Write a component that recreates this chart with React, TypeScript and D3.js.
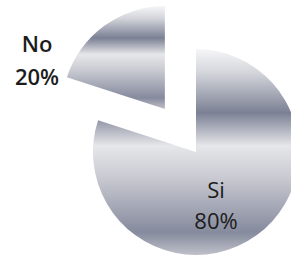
import React from "react";
import * as d3 from "d3";

const categories = ["Si", "No"];
const values = [80, 20];
const percentLabels = ["80%", "20%"];

const W = 291;
const H = 259;

export default function App() {
  const cx = 196;
  const cy = 152;
  const r = 103;
  const explode = 53;

  const pie = d3.pie<number>().sort(null).value((d) => d);
  const arcs = pie(values);
  const arcGen = d3.arc<d3.PieArcDatum<number>>().innerRadius(0).outerRadius(r);

  const stops: [number, string][] = [
    [0, "#f6f6f8"],
    [0.12, "#d2d4da"],
    [0.31, "#7b8094"],
    [0.47, "#e6e7ea"],
    [0.62, "#cacbd2"],
    [0.89, "#858a9d"],
    [1, "#bfc1c9"],
  ];

  const labelPos = [
    { x: 216, y1: 198, y2: 229, weight: 400 },
    { x: 37, y1: 52, y2: 85, weight: 600 },
  ];

  return (
    <svg
      width={W}
      height={H}
      style={{ position: "absolute", left: 0, top: 0, display: "block" }}
    >
      <defs>
        <linearGradient id="chrome" x1="0" y1="0" x2="0" y2="1">
          {stops.map(([o, c], i) => (
            <stop key={i} offset={o} stopColor={c} />
          ))}
        </linearGradient>
      </defs>
      <rect width={W} height={H} fill="#ffffff" />
      {arcs.map((a, i) => {
        const mid = (a.startAngle + a.endAngle) / 2;
        const off = i === 1 ? explode : 0;
        const dx = Math.sin(mid) * off;
        const dy = -Math.cos(mid) * off;
        return (
          <path
            key={categories[i]}
            d={arcGen(a) || ""}
            transform={`translate(${cx + dx},${cy + dy})`}
            fill="url(#chrome)"
          />
        );
      })}
      {categories.map((c, i) => (
        <text
          key={c}
          textAnchor="middle"
          fontFamily="'Open Sans', 'Noto Sans', sans-serif"
          fontSize={22}
          fontWeight={labelPos[i].weight}
          fill="#1c1c1c"
        >
          <tspan x={labelPos[i].x} y={labelPos[i].y1}>
            {c}
          </tspan>
          <tspan x={labelPos[i].x} y={labelPos[i].y2}>
            {percentLabels[i]}
          </tspan>
        </text>
      ))}
    </svg>
  );
}
